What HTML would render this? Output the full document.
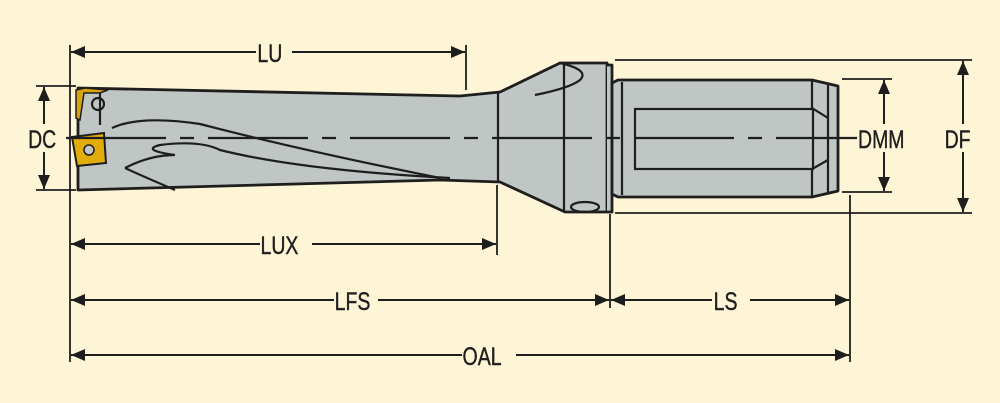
<!DOCTYPE html>
<html><head><meta charset="utf-8"><style>
html,body{margin:0;padding:0;background:#fdf5d5;}
svg{display:block}
text{font-family:"Liberation Sans",sans-serif;font-size:25px;fill:#1e1e1e;stroke:#1e1e1e;stroke-width:0.4}
</style></head><body>
<svg width="1000" height="403" viewBox="0 0 1000 403" xmlns="http://www.w3.org/2000/svg">
<defs>
<marker id="a" viewBox="0 0 14 12" refX="14" refY="6" markerWidth="14" markerHeight="12" orient="auto-start-reverse" markerUnits="userSpaceOnUse">
<path d="M0,0 L14,6 L0,12 Z" fill="#1e1e1e"/></marker>
</defs>
<rect width="1000" height="403" fill="#fdf5d5"/>
<g stroke="#1e1e1e" stroke-width="2.8" fill="#bfc6c3" stroke-linejoin="round">
<path d="M78,88 L460,96 L500,92 L560,63 L607,63 L607,212 L565,212 L500,182 L440,180 L78,190 Z"/>
<path d="M607,65 L612,65 L612,212 L607,212" />
<path d="M612,83 L618,80 L812,80 L838,86 L838,191 L812,197 L618,197 L612,194 Z"/>
</g>
<g stroke="#1e1e1e" stroke-width="2.2" fill="none">
<line x1="498" y1="93" x2="498" y2="183"/>
<line x1="564" y1="63" x2="564" y2="212"/>
<line x1="622" y1="82" x2="622" y2="195"/>
<rect x="635" y="109" width="178" height="60"/>
<path d="M812,80 L812,108 L828,118 M812,197 L812,169 L828,160 M828,85 L828,192"/>
<ellipse cx="585" cy="207" rx="14" ry="5"/>
<path d="M560,63 Q590,70 580,80 Q570,88 535,95"/>
<path d="M112,128 Q140,115 200,124 Q300,150 440,178" />
<path d="M125,168 Q150,155 175,155 Q140,150 160,145 Q200,140 220,150 Q300,170 450,178"/>
<path d="M125,168 Q140,175 175,190"/>
<circle cx="98" cy="104" r="6"/>
<line x1="100" y1="90" x2="100" y2="125"/>
</g>
<path d="M76,90 L85,88 L108,90 L100,93 L84,93 L80,120 L76,118 Z" fill="#d7a410" stroke="#1e1e1e" stroke-width="1.5"/>
<path d="M72,137 L104,133 L106,163 L77,166 Z" fill="#e2ad0a" stroke="#1e1e1e" stroke-width="2"/>
<circle cx="89" cy="150" r="5" fill="#bfc6c3" stroke="#1e1e1e" stroke-width="1.5"/>
<line x1="66" y1="138" x2="860" y2="138" stroke="#1e1e1e" stroke-width="2.2" stroke-dasharray="100,14,14,14"/>
<g stroke="#1e1e1e" stroke-width="1.8" fill="none">
<line x1="70" y1="45" x2="70" y2="362"/>
<line x1="466" y1="45" x2="466" y2="90"/>
<line x1="497" y1="185" x2="497" y2="255"/>
<line x1="610" y1="214" x2="610" y2="308"/>
<line x1="850" y1="195" x2="850" y2="362"/>
<line x1="36" y1="86" x2="76" y2="86"/>
<line x1="36" y1="190" x2="76" y2="190"/>
<line x1="615" y1="60" x2="972" y2="60"/>
<line x1="615" y1="213" x2="972" y2="213"/>
<line x1="842" y1="79" x2="892" y2="79"/>
<line x1="842" y1="192" x2="892" y2="192"/>
</g>
<g stroke="#1e1e1e" stroke-width="2" fill="none" marker-start="url(#a)" marker-end="url(#a)">
<line x1="71" y1="52" x2="465" y2="52"/>
<line x1="71" y1="244" x2="496" y2="244"/>
<line x1="71" y1="300" x2="609" y2="300"/>
<line x1="611" y1="300" x2="849" y2="300"/>
<line x1="71" y1="355" x2="849" y2="355"/>
<line x1="44" y1="87" x2="44" y2="189"/>
<line x1="884" y1="80" x2="884" y2="191"/>
<line x1="963" y1="61" x2="963" y2="212"/>
</g>
<g fill="#fdf5d5">
<rect x="256" y="38" width="36" height="28"/>
<rect x="260" y="230" width="52" height="28"/>
<rect x="334" y="286" width="44" height="28"/>
<rect x="712" y="286" width="38" height="28"/>
<rect x="462" y="341" width="54" height="28"/>
<rect x="26" y="124" width="38" height="28"/>
<rect x="857" y="124" width="62" height="28"/>
<rect x="943" y="124" width="40" height="28"/>
</g>
<g transform="scale(0.78,1)">
<text x="330" y="62">LU</text>
<text x="334" y="254">LUX</text>
<text x="429" y="310">LFS</text>
<text x="915" y="310">LS</text>
<text x="593" y="365">OAL</text>
<text x="36" y="148">DC</text>
<text x="1100" y="148">DMM</text>
<text x="1211" y="148">DF</text>
</g>
</svg>
</body></html>
